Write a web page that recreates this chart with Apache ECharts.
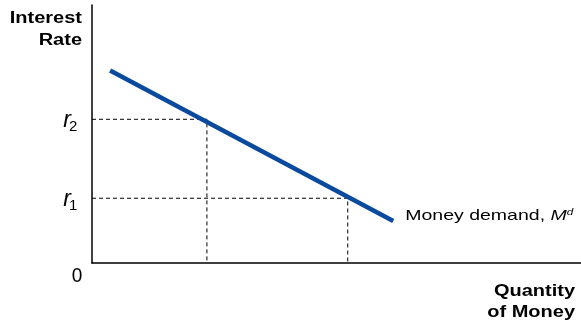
<!DOCTYPE html>
<html><head><meta charset="utf-8">
<script src="https://cdn.jsdelivr.net/npm/echarts/dist/echarts.min.js"></script>
<style>html,body{margin:0;padding:0;background:#fff}#c{width:581px;height:328px}</style>
</head><body><div id="c"></div>
<script>
// Money demand curve (two end points)
const demandQuantity = [3.7, 61.6];
const demandRate = [74.6, 16.3];
// Reference points on the curve (r2, r1)
const refQuantity = [23.5, 52.3];
const refRate = [55.7, 25.1];
const refSubscripts = ['2', '1'];
const yAxisTitle = ['Interest', 'Rate'];
const xAxisTitle = ['Quantity', 'of Money'];
const originLabel = '0';
const curveLabel = 'Money demand, ';

const FONT = '"Liberation Sans", Arial, sans-serif';
const chart = echarts.init(document.getElementById('c'), null, {renderer: 'canvas'});

const series = [{
  type: 'line',
  data: demandQuantity.map((q, i) => [q, demandRate[i]]),
  symbol: 'none',
  lineStyle: {color: '#0a4a9e', width: 4.5, cap: 'butt'},
  z: 5,
  animation: false
}];
refQuantity.forEach((q, i) => {
  series.push({
    type: 'line',
    data: [[0, refRate[i]], [q, refRate[i]], [q, 0]],
    symbol: 'none',
    lineStyle: {color: '#000', width: 1, type: [4, 3]},
    z: 3,
    animation: false
  });
});

chart.setOption({
  animation: false,
  grid: {left: 92, right: 0, top: 5, bottom: 65, containLabel: false},
  xAxis: {type: 'value', min: 0, max: 100, axisLine: {show: true, onZero: false, lineStyle: {color: '#000', width: 1.5}},
    axisTick: {show: false}, axisLabel: {show: false}, splitLine: {show: false}},
  yAxis: {type: 'value', min: 0, max: 100, axisLine: {show: true, onZero: false, lineStyle: {color: '#000', width: 1.5}},
    axisTick: {show: false}, axisLabel: {show: false}, splitLine: {show: false}},
  series: series
});

const endPx = chart.convertToPixel({gridIndex: 0}, [demandQuantity[1], demandRate[1]]);
const graphics = [];
function boldText(str, x, y, align) {
  return {type: 'text', x: x, y: y, scaleX: 1.25, silent: true,
    style: {text: str, font: 'bold 16px ' + FONT, fill: '#000', align: align, verticalAlign: 'middle'}};
}
graphics.push(boldText(yAxisTitle[0], 82, 18.5, 'right'));
graphics.push(boldText(yAxisTitle[1], 82, 41, 'right'));
graphics.push(boldText(xAxisTitle[0], 575, 292, 'right'));
graphics.push(boldText(xAxisTitle[1], 575, 313, 'right'));
graphics.push({type: 'text', x: 77, y: 276, scaleY: 1.1, silent: true,
  style: {text: originLabel, font: '19px ' + FONT, fill: '#000', align: 'center', verticalAlign: 'middle'}});
graphics.push({type: 'text', x: endPx[0] + 12, y: endPx[1] - 5, scaleX: 1.3, silent: true,
  style: {text: '{n|' + curveLabel + '}{m|M}{d|d}', fill: '#000', align: 'left', verticalAlign: 'middle',
    rich: {
      n: {font: '15px ' + FONT, fill: '#000', verticalAlign: 'bottom'},
      m: {font: 'italic 15px ' + FONT, fill: '#000', verticalAlign: 'bottom'},
      d: {font: 'italic 9px ' + FONT, fill: '#000', verticalAlign: 'top'}
    }}});
refRate.forEach((r, i) => {
  const p = chart.convertToPixel({gridIndex: 0}, [0, r]);
  graphics.push({type: 'text', x: 71, y: p[1] + 1, silent: true,
    style: {text: 'r', font: 'italic 23px ' + FONT, fill: '#000', align: 'right', verticalAlign: 'middle'}});
  graphics.push({type: 'text', x: 69, y: p[1] + 8, silent: true,
    style: {text: refSubscripts[i], font: '15px ' + FONT, fill: '#000', align: 'left', verticalAlign: 'middle'}});
});
chart.setOption({graphic: graphics});
</script>
</body></html>
